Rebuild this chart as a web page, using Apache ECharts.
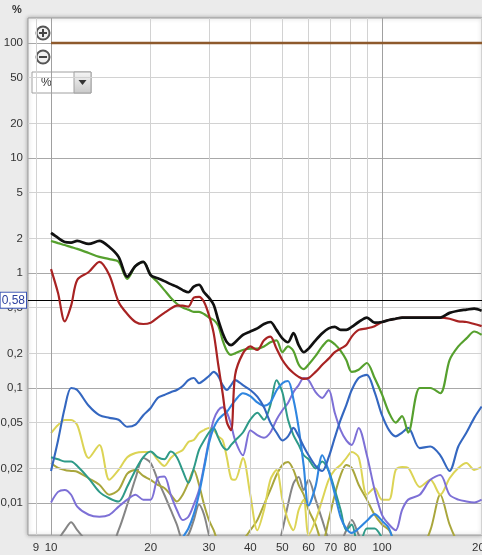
<!DOCTYPE html>
<html><head><meta charset="utf-8">
<script src="https://cdn.jsdelivr.net/npm/echarts@6/dist/echarts.min.js"></script>
<style>html,body{margin:0;padding:0;background:#ebebeb;}#c{width:482px;height:555px;}</style>
</head><body><div id="c"></div>
<script>
// Frequencies (Hz)
const freq = [10,10.5,11,11.5,12,13,14,15,
 16,17,18,19,20,21,22,23,
 24,25,26,27,28,29,30,31,
 32,33,34,35,36,38,40,42,
 44,46,48,50,52,54,56,58,
 60,63,66,69,72,75,78,81,
 85,90,95,100,105,110,115,120,
 130,140,150,160,170,180,190,200];

// Distortion values (%)
const thd = [2.23,2.02,1.86,1.84,1.90,1.79,1.90,1.68,
 1.38,0.93,1.15,1.25,0.96,0.90,0.85,0.80,
 0.76,0.71,0.68,0.76,0.79,0.68,0.61,0.53,
 0.39,0.30,0.25,0.236,0.25,0.29,0.31,0.33,
 0.36,0.375,0.32,0.27,0.25,0.30,0.236,0.205,
 0.22,0.26,0.30,0.33,0.34,0.32,0.32,0.34,
 0.375,0.41,0.37,0.375,0.39,0.40,0.41,0.41,
 0.41,0.41,0.41,0.45,0.47,0.48,0.49,0.47];
const green = [1.90,1.82,1.75,1.68,1.62,1.49,1.38,1.32,
 1.25,0.89,1.15,1.25,0.96,0.83,0.71,0.61,
 0.54,0.50,0.48,0.46,0.46,0.44,0.41,0.39,
 0.35,0.26,0.21,0.194,0.20,0.214,0.22,0.22,
 0.23,0.25,0.26,0.205,0.23,0.21,0.16,0.146,
 0.16,0.19,0.23,0.26,0.24,0.21,0.175,0.138,
 0.144,0.165,0.122,0.088,0.061,0.05,0.057,0.041,
 0.10,0.10,0.09,0.175,0.23,0.27,0.31,0.29];
const red = [1.08,0.67,0.38,0.52,0.87,1.02,1.25,0.96,
 0.56,0.44,0.375,0.36,0.37,0.41,0.45,0.49,
 0.52,0.52,0.51,0.61,0.62,0.56,0.43,0.30,
 0.16,0.09,0.05,0.043,0.13,0.2,0.23,0.214,
 0.26,0.28,0.22,0.175,0.15,0.135,0.125,0.12,
 0.122,0.138,0.159,0.18,0.205,0.22,0.236,0.28,
 0.32,0.33,0.345,0.375,0.39,0.40,0.41,0.41,
 0.41,0.41,0.41,0.40,0.38,0.375,0.36,0.345];
const blueA = [0.019,0.035,0.067,0.1,0.096,0.07,0.058,0.055,
 0.053,0.046,0.048,0.058,0.067,0.082,0.087,0.092,
 0.096,0.104,0.117,0.122,0.11,0.117,0.127,0.138,
 0.127,0.106,0.096,0.106,0.117,0.106,0.096,0.084,
 0.068,0.05,0.041,0.035,0.038,0.045,0.038,0.031,
 0.026,0.021,0.019,0.025,0.037,0.053,0.071,0.096,
 0.122,0.13,0.092,0.058,0.043,0.038,0.041,0.045,
 0.03,0.031,0.026,0.019,0.031,0.041,0.055,0.069];
const blueB = [0.003,0.003,0.003,0.003,0.003,0.003,0.003,0.003,
 0.003,0.003,0.003,0.003,0.003,0.003,0.003,0.003,
 0.004,0.005,0.006,0.008,0.012,0.02,0.033,0.045,
 0.053,0.058,0.062,0.07,0.078,0.09,0.085,0.075,
 0.07,0.075,0.095,0.11,0.115,0.08,0.045,0.021,
 0.0095,0.014,0.026,0.019,0.012,0.0075,0.006,0.0055,
 0.006,0.007,0.008,0.007,0.006,0.004,0.003,0.003,
 0.003,0.003,0.003,0.003,0.003,0.003,0.003,0.003];
const teal = [0.025,0.024,0.023,0.023,0.021,0.0164,0.0125,0.011,
 0.0103,0.0139,0.0194,0.025,0.028,0.025,0.024,0.028,
 0.025,0.019,0.015,0.02,0.029,0.035,0.041,0.045,
 0.037,0.031,0.029,0.032,0.035,0.041,0.053,0.061,
 0.053,0.071,0.117,0.092,0.053,0.039,0.032,0.026,
 0.024,0.02,0.023,0.019,0.013,0.0087,0.0058,0.0065,
 0.004,0.006,0.006,0.005,0.004,0.003,0.003,0.003,
 0.003,0.003,0.003,0.003,0.003,0.003,0.003,0.003];
const purple = [0.0101,0.0125,0.013,0.0118,0.0093,0.0079,0.0076,0.0079,
 0.0093,0.0107,0.0118,0.0107,0.0107,0.0164,0.017,0.0118,
 0.0087,0.0071,0.0076,0.0097,0.013,0.021,0.035,0.053,
 0.064,0.068,0.061,0.048,0.035,0.026,0.043,0.039,
 0.037,0.041,0.053,0.064,0.074,0.092,0.106,0.122,
 0.117,0.092,0.082,0.096,0.061,0.043,0.035,0.032,
 0.045,0.026,0.013,0.0079,0.0065,0.0058,0.0087,0.0107,
 0.0118,0.0159,0.0175,0.0118,0.0107,0.0103,0.0101,0.0107];
const yellow = [0.0405,0.0477,0.0527,0.0527,0.0477,0.0246,0.0319,0.0159,
 0.0194,0.025,0.0272,0.0277,0.0277,0.0237,0.021,0.0246,
 0.0272,0.0289,0.034,0.0353,0.0405,0.0431,0.045,0.0431,
 0.038,0.0353,0.0246,0.0164,0.0159,0.0246,0.0118,0.0058,
 0.0087,0.0159,0.0194,0.0107,0.0071,0.0058,0.0087,0.0107,
 0.0053,0.0071,0.0107,0.0159,0.0194,0.0214,0.0246,0.0277,
 0.025,0.0118,0.0135,0.0107,0.0107,0.0194,0.0206,0.0202,
 0.0138,0.0159,0.0118,0.0164,0.0202,0.0223,0.0194,0.0206];
const olive = [0.0223,0.0202,0.0194,0.019,0.0187,0.0164,0.0144,0.0118,
 0.013,0.018,0.0194,0.0172,0.0159,0.0144,0.0135,0.0118,
 0.0103,0.0118,0.015,0.0194,0.0144,0.0097,0.0071,0.0058,
 0.0045,0.004,0.004,0.004,0.0045,0.0048,0.0058,0.0071,
 0.0097,0.013,0.0175,0.0214,0.0227,0.0194,0.0144,0.0118,
 0.0087,0.0065,0.0045,0.0071,0.0118,0.0175,0.0214,0.0202,
 0.0144,0.0107,0.0079,0.0065,0.0058,0.0045,0.004,0.004,
 0.004,0.0058,0.0118,0.0065,0.0045,0.004,0.004,0.004];
const gray = [0.004,0.0048,0.0058,0.0068,0.0058,0.0045,0.004,0.004,
 0.0058,0.0097,0.0164,0.0246,0.0223,0.0159,0.0118,0.0087,
 0.0065,0.0048,0.0053,0.0071,0.0097,0.0079,0.0053,0.004,
 0.004,0.004,0.004,0.004,0.004,0.004,0.004,0.004,
 0.004,0.004,0.004,0.0058,0.0097,0.0148,0.0168,0.013,
 0.0159,0.0107,0.0071,0.0048,0.004,0.0045,0.0058,0.0071,
 0.0053,0.004,0.004,0.004,0.004,0.004,0.004,0.004,
 0.004,0.004,0.004,0.004,0.004,0.004,0.004,0.004];
const fundamentalFreq = [10, 210];
const fundamentalPct = [100, 100];
const cursorValue = 0.58;
const cursorLabel = '0,58';

// Ticks
const xTicks = [9,10,20,30,40,50,60,70,80,90,100,200];
const xTickLabels = ['9','10','20','30','40','50','60','70','80','','100','200'];
const yTicks = [100,50,20,10,5,2,1,0.5,0.2,0.1,0.05,0.02,0.01];
const yTickLabels = ['100','50','20','10','5','2','1','0,5','0,2','0,1','0,05','0,02','0,01'];
const decadeY = [100,10,1,0.1,0.01];
const decadeX = [10,100];

const FONT = '"Liberation Sans", Arial, sans-serif';
const chart = echarts.init(document.getElementById('c'));
const pairs = (fx, v) => fx.map((f, i) => [f, v[i]]);

const curves = [
  {data: gray, color: '#858585', w: 2},
  {data: olive, color: '#a9a63c', w: 2},
  {data: yellow, color: '#dcd455', w: 2},
  {data: purple, color: '#7d70d6', w: 2},
  {data: teal, color: '#2e9a88', w: 2},
  {data: blueB, color: '#2f86e0', w: 2.1},
  {data: blueA, color: '#3467c0', w: 2.1},
  {data: green, color: '#56a02e', w: 2.2},
  {data: red, color: '#a82323', w: 2.2},
  {data: thd, color: '#111111', w: 2.7}
];

const gridLines = [];
yTicks.forEach((v, i) => gridLines.push({
  yAxis: v,
  lineStyle: {color: decadeY.includes(v) ? '#a8a8a8' : '#d2d2d2', width: 1, type: 'solid'},
  label: {formatter: yTickLabels[i], position: 'start', distance: 5}
}));
xTicks.forEach((v, i) => gridLines.push({
  xAxis: v,
  lineStyle: {color: decadeX.includes(v) ? '#a0a0a0' : '#d2d2d2', width: 1, type: 'solid'},
  label: {formatter: xTickLabels[i], position: 'start', distance: 7}
}));

const hidden = {axisLine: {show: false}, axisTick: {show: false}, axisLabel: {show: false}, splitLine: {show: false}};

const series = [{
  type: 'line', data: [[10, 0.001]], showSymbol: false, silent: true, z: 1,
  markLine: {
    symbol: ['none', 'none'], silent: true, animation: false,
    label: {show: true, color: '#333', fontSize: 11.5, fontFamily: FONT},
    data: gridLines
  }
}];
curves.forEach((c, k) => series.push({
  type: 'line', data: pairs(freq, c.data), showSymbol: false, smooth: 0.3,
  clip: true, silent: true, z: 2 + k,
  lineStyle: {color: c.color, width: c.w}, itemStyle: {color: c.color}
}));
series.push({
  type: 'line', data: pairs(fundamentalFreq, fundamentalPct), showSymbol: false, clip: true, silent: true, z: 20,
  lineStyle: {color: '#8e5a2c', width: 2.5}
});
series.push({
  type: 'line', data: [[10, 0.001]], showSymbol: false, silent: true, z: 30,
  markLine: {
    symbol: ['none', 'none'], silent: true, animation: false,
    lineStyle: {color: '#000', width: 1.2, type: 'solid'},
    label: {show: true, position: 'start', distance: 2, formatter: cursorLabel,
      color: '#2b3f9e', backgroundColor: '#fff', borderColor: '#3b55b5', borderWidth: 1,
      padding: [2, 1, 1, 1], fontSize: 12, fontFamily: FONT},
    data: [{yAxis: cursorValue}]
  }
});

chart.setOption({
  animation: false,
  backgroundColor: '#ebebeb',
  grid: {left: 28, top: 18, right: 0, bottom: 20, show: true, backgroundColor: '#fff',
    borderColor: '#9c9c9c', borderWidth: 1, shadowBlur: 4, shadowColor: 'rgba(0,0,0,0.3)'},
  xAxis: Object.assign({type: 'log', logBase: 10, min: 8.52, max: 200.5}, hidden),
  yAxis: Object.assign({type: 'log', logBase: 10, min: 0.00527, max: 164.9}, hidden),
  series: series,
  graphic: [
    {type: 'text', left: 12, top: 4, style: {text: '%', font: 'bold 11px ' + FONT, fill: '#333'}},
    {type: 'group', x: 43, y: 33, z: 100, children: [
      {type: 'circle', shape: {cx: 0, cy: 0, r: 6.5}, style: {fill: '#f0f0f0', stroke: '#555', lineWidth: 2}},
      {type: 'rect', shape: {x: -4, y: -1, width: 8, height: 2}, style: {fill: '#444'}},
      {type: 'rect', shape: {x: -1, y: -4, width: 2, height: 8}, style: {fill: '#444'}}
    ]},
    {type: 'group', x: 43, y: 57, z: 100, children: [
      {type: 'circle', shape: {cx: 0, cy: 0, r: 6.5}, style: {fill: '#f0f0f0', stroke: '#555', lineWidth: 2}},
      {type: 'rect', shape: {x: -4, y: -1, width: 8, height: 2}, style: {fill: '#444'}}
    ]},
    {type: 'group', x: 32, y: 72, z: 100, children: [
      {type: 'rect', shape: {x: 0, y: 0, width: 59, height: 21}, style: {fill: '#fff', stroke: '#a0a0a0', lineWidth: 1}},
      {type: 'rect', shape: {x: 42, y: 0, width: 17, height: 21},
        style: {fill: new echarts.graphic.LinearGradient(0, 0, 0, 1, [{offset: 0, color: '#f6f6f6'}, {offset: 1, color: '#c9c9c9'}]), stroke: '#a0a0a0', lineWidth: 1}},
      {type: 'polygon', shape: {points: [[46.5, 8], [54.5, 8], [50.5, 13]]}, style: {fill: '#333'}},
      {type: 'text', x: 9, y: 5, style: {text: '%', font: '12px ' + FONT, fill: '#333'}}
    ]}
  ]
});
</script></body></html>
